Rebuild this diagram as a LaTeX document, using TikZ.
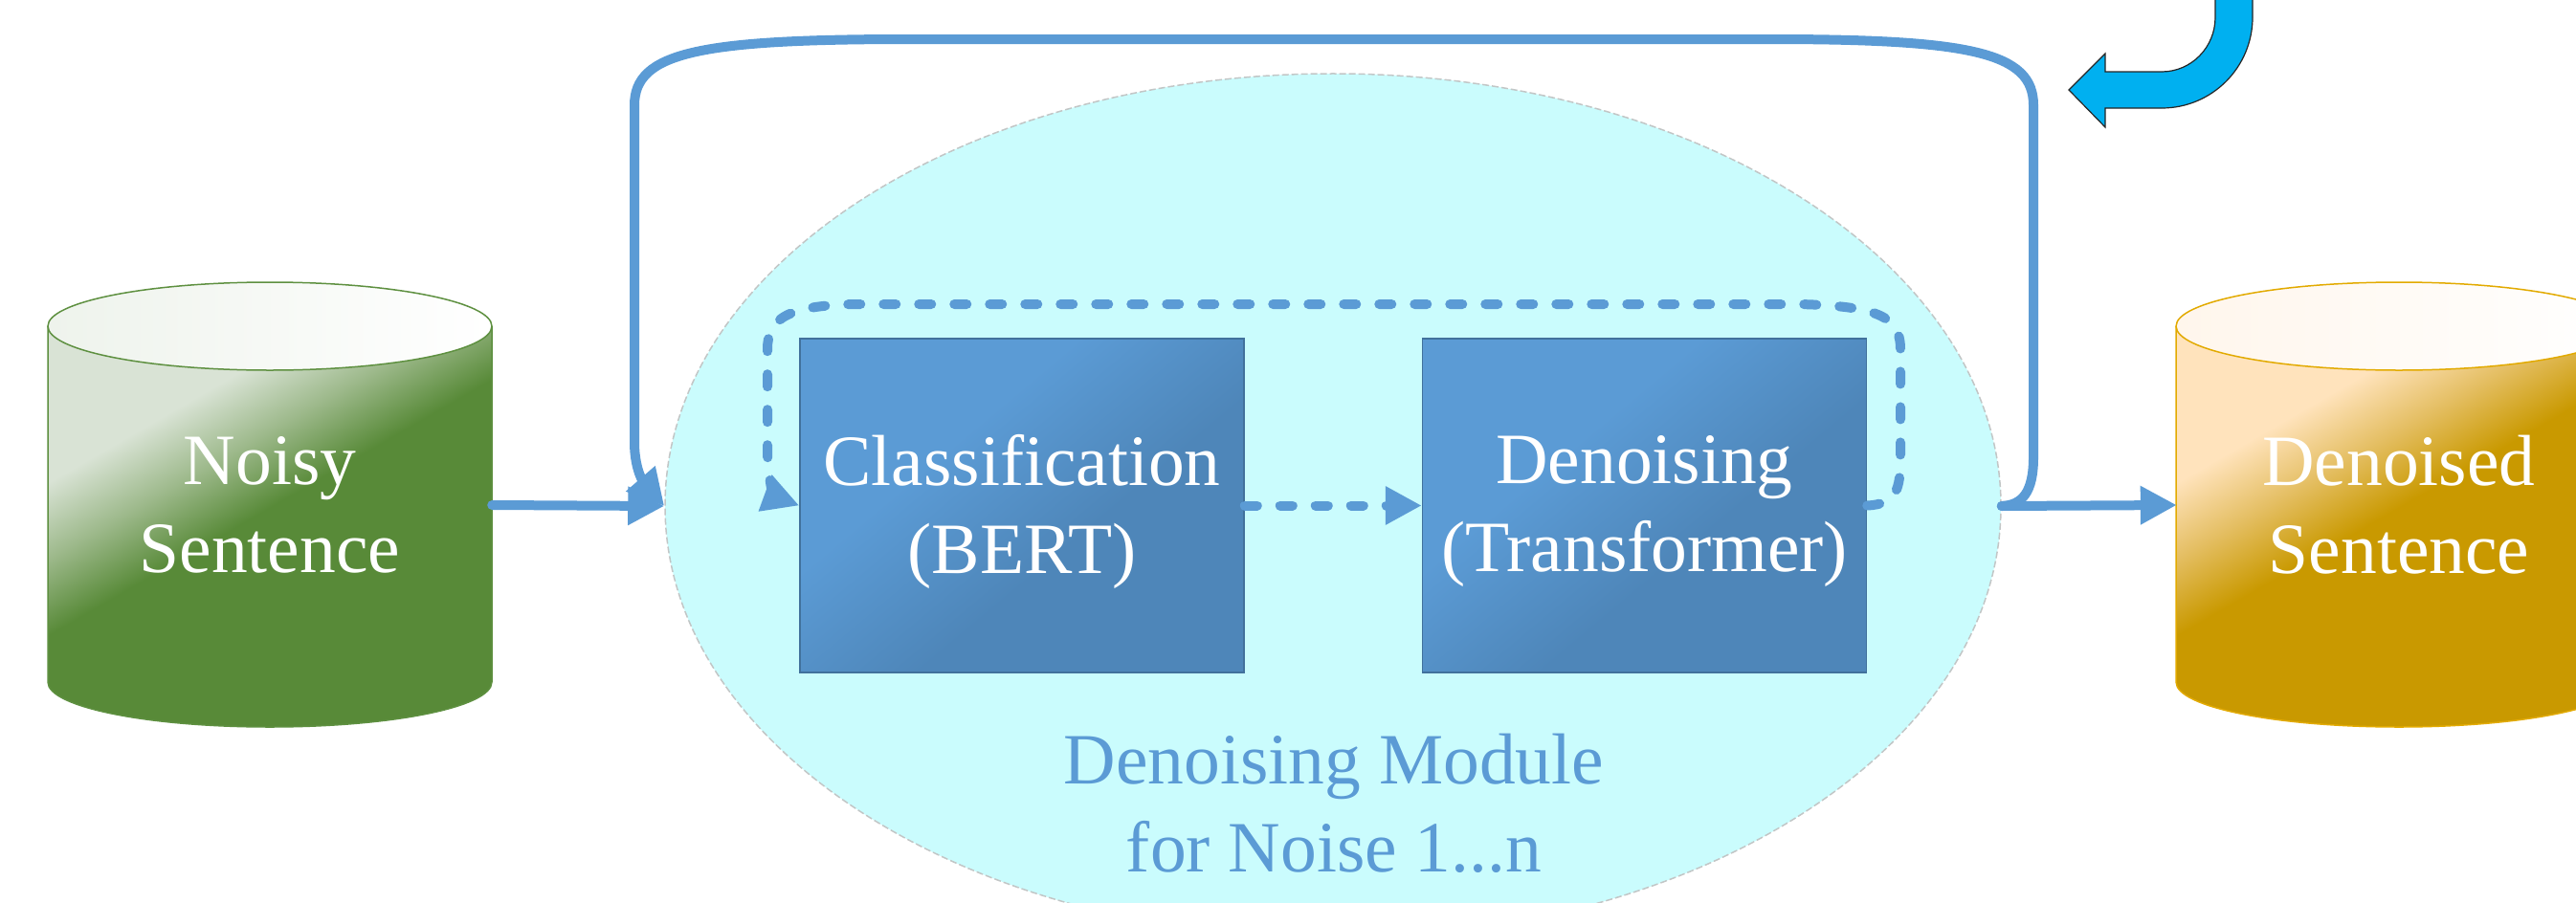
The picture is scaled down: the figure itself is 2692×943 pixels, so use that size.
\documentclass[tikz,border=0pt]{standalone}
\usepackage{fontspec}
\setmainfont{Liberation Serif}
\usetikzlibrary{arrows.meta,shapes.geometric}

\definecolor{flow}{HTML}{5B9BD5}
\definecolor{modfill}{HTML}{CAFCFD}
\definecolor{modedge}{HTML}{C2C6C6}
\definecolor{boxtop}{HTML}{5B9BD5}
\definecolor{boxbot}{HTML}{4E86B9}
\definecolor{boxedge}{HTML}{41719C}
\definecolor{turn}{HTML}{00B0F0}
\definecolor{gLight}{HTML}{D9E3D5}
\definecolor{gMid}{HTML}{9DB98B}
\definecolor{gDark}{HTML}{588A38}
\definecolor{gEdge}{HTML}{5E9040}
\definecolor{gTop}{HTML}{EEF3EC}
\definecolor{oLight}{HTML}{FFE3BC}
\definecolor{oMid}{HTML}{E4BE62}
\definecolor{oDark}{HTML}{C99900}
\definecolor{oEdge}{HTML}{E2AA00}
\definecolor{oTop}{HTML}{FFF6EC}

\pgfdeclarehorizontalshading{greenbody}{100bp}{color(0bp)=(gLight); color(32bp)=(gLight); color(40bp)=(gMid); color(48bp)=(gDark); color(100bp)=(gDark)}
\pgfdeclarehorizontalshading{orangebody}{100bp}{color(0bp)=(oLight); color(32bp)=(oLight); color(40bp)=(oMid); color(48bp)=(oDark); color(100bp)=(oDark)}
\pgfdeclarehorizontalshading{bluebox}{100bp}{color(0bp)=(boxtop); color(38bp)=(boxtop); color(58bp)=(boxbot); color(100bp)=(boxbot)}

\newcommand\lblfont{\fontsize{75.5bp}{92bp}\selectfont}

\begin{document}
\begin{tikzpicture}[x=1bp,y=-1bp,
  module/.style={ellipse, minimum width=1396bp, minimum height=904bp, inner sep=0pt,
    fill=modfill, draw=modedge, line width=1.5bp, dash pattern=on 7bp off 3bp},
  modlabel/.style={align=center, text=flow, font=\lblfont, inner sep=0pt},
  procbox/.style={rectangle, minimum width=464bp, minimum height=349bp, inner sep=0pt,
    draw=boxedge, line width=1.5bp, shade, shading=bluebox, shading angle=-50},
  boxlabel/.style={align=center, text=white, font=\lblfont, inner sep=0pt},
  drum/.style={rectangle, minimum width=464bp, minimum height=420bp, inner sep=0pt,
    align=center, text=white, font=\lblfont},
  flowline/.style={draw=flow, line width=10bp, line cap=round, line join=round},
  flowdash/.style={flowline, dash pattern=on 13bp off 24bp},
  tipA/.style={-{Triangle[length=38bp,width=38bp]}}
]
\useasboundingbox (0,0) rectangle (2692,943);

% ---- denoising module background ----
\node[module] (module) at (1393,529) {};
\node[modlabel] (modtext) at (1394,840) {Denoising Module\\for Noise 1...n};

% ---- input store (green drum) ----
\shade[shading=greenbody, shading angle=-60]
  (50,341) -- (50,713) .. controls (50,739) and (153.9,760) .. (282,760)
  .. controls (410.1,760) and (514,739) .. (514,713) -- (514,341)
  .. controls (514,366.4) and (410.1,387) .. (282,387)
  .. controls (153.9,387) and (50,366.4) .. (50,341) -- cycle;
\draw[gEdge, line width=1.5bp]
  (50,341) -- (50,713) .. controls (50,739) and (153.9,760) .. (282,760)
  .. controls (410.1,760) and (514,739) .. (514,713) -- (514,341);
\shade[left color=gTop, right color=white] (282,341) ellipse [x radius=232bp, y radius=46bp];
\draw[gEdge, line width=1.5bp] (282,341) ellipse [x radius=232bp, y radius=46bp];
\node[drum] (noisy) at (282,528) {Noisy\\Sentence};

% ---- output store (golden drum) ----
\shade[shading=orangebody, shading angle=-60]
  (2274,341) -- (2274,713) .. controls (2274,739) and (2378.3,760) .. (2507,760)
  .. controls (2635.7,760) and (2740,739) .. (2740,713) -- (2740,341)
  .. controls (2740,366.4) and (2635.7,387) .. (2507,387)
  .. controls (2378.3,387) and (2274,366.4) .. (2274,341) -- cycle;
\draw[oEdge, line width=1.5bp]
  (2274,341) -- (2274,713) .. controls (2274,739) and (2378.3,760) .. (2507,760)
  .. controls (2635.7,760) and (2740,739) .. (2740,713) -- (2740,341);
\shade[left color=oTop, right color=white] (2507,341) ellipse [x radius=233bp, y radius=46bp];
\draw[oEdge, line width=1.5bp] (2507,341) ellipse [x radius=233bp, y radius=46bp];
\node[drum] (denoised) at (2507,528) {Denoised\\Sentence};

% ---- processing stages ----
\node[procbox] (cls) at (1068,528.5) {};
\node[procbox] (den) at (1718.5,528.5) {};
\node[boxlabel, yshift=-6.5bp] (clstext) at (cls.center) {Classification\\(BERT)};
\node[boxlabel, yshift=-6.5bp] (dentext) at (den.center) {Denoising\\(Transformer)};

% ---- main flow ----
\draw[flowline, tipA] (noisy.east) -- (module.west);
\draw[flowline, tipA] (module.east) -- (denoised.west);

% ---- outer repetition loop ----
\draw[flowline, tipA] (module.east)
  .. controls (2113,528) and (2125,515) .. (2125,478) -- (2125,110)
  .. controls (2125,55) and (2060,41) .. (1850,41) -- (950,41)
  .. controls (730,41) and (663,55) .. (663,110) -- (663,462)
  .. controls (663,496) and (676,508) .. (module.west);

% ---- inner dashed loop ----
\draw[flowdash, tipA] (cls.east) -- (den.west);
\draw[flowdash, tipA] (den.east)
  .. controls (1982,527) and (1986,512) .. (1986,478) -- (1986,365)
  .. controls (1986,330) and (1960,320) .. (1880,318) -- (890,318)
  .. controls (825,320) and (802,332) .. (802,365) -- (802,468)
  .. controls (802,508) and (812,520) .. (cls.west);

% ---- U-turn arrow ----
\filldraw[fill=turn, draw=black!85, line width=1.2bp]
  (2315,-5) -- (2315,18) .. controls (2315,49.5) and (2290,75) .. (2259,75)
  -- (2200,75) -- (2200,56) -- (2162,94) -- (2200,133) -- (2200,113) -- (2259,113)
  .. controls (2311.5,113) and (2354,70.5) .. (2354,18) -- (2354,-5) -- cycle;
\end{tikzpicture}
\end{document}
